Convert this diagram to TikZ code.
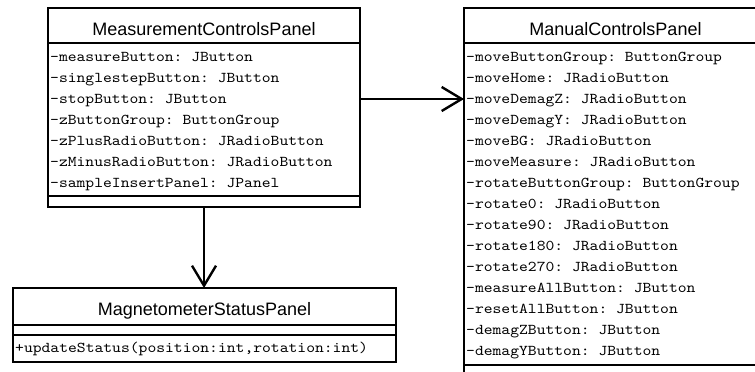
\documentclass[tikz,border=0pt]{standalone}
\usepackage{fontspec}
\setmainfont{Liberation Sans}
\setmonofont{lmmono10-regular.otf}[FakeStretch=1.12]
\usetikzlibrary{arrows.meta}
\begin{document}
\begin{tikzpicture}[x=1pt,y=-1pt,
  box/.style={draw, line width=2.4pt, anchor=north west, inner sep=0pt, outer sep=0pt, fill=white},
  title/.style={anchor=base, font=\fontsize{18}{20}\selectfont, inner sep=0pt},
  attr/.style={anchor=base west, font=\ttfamily\fontsize{15}{21}\selectfont, inner sep=0pt},
  sep/.style={line width=2.4pt},
  assoc/.style={line width=2.4pt, -{Straight Barb[length=20pt,width=24pt,line width=2.4pt]}}]
\useasboundingbox (0,0) rectangle (755,372);
\clip (0,0) rectangle (755,372);
\fill[white] (0,0) rectangle (755,372);

% MeasurementControlsPanel
\node[box, minimum width=312pt, minimum height=199pt] (mcp) at (48,8) {};
\draw[sep] (mcp.west |- 0,43) -- (mcp.east |- 0,43);
\draw[sep] (mcp.west |- 0,196) -- (mcp.east |- 0,196);
\node[title] (mcpt) at (204,35) {MeasurementControlsPanel};
\foreach \t [count=\i from 0] in {-measureButton: JButton,
  -singlestepButton: JButton,
  -stopButton: JButton,
  -zButtonGroup: ButtonGroup,
  -zPlusRadioButton: JRadioButton,
  -zMinusRadioButton: JRadioButton,
  -sampleInsertPanel: JPanel}
  \node[attr] (mcpa\i) at (50,61.5+21*\i) {\t};

% MagnetometerStatusPanel
\node[box, minimum width=383pt, minimum height=74pt] (msp) at (13,288) {};
\draw[sep] (msp.west |- 0,325) -- (msp.east |- 0,325);
\draw[sep] (msp.west |- 0,335) -- (msp.east |- 0,335);
\node[title] (mspt) at (204.5,315) {MagnetometerStatusPanel};
\node[attr] (mspm) at (15,352) {+updateStatus(position:int,rotation:int)};

% ManualControlsPanel
\node[box, minimum width=304pt, minimum height=420pt] (man) at (464,8) {};
\draw[sep] (man.west |- 0,43) -- (man.east |- 0,43);
\draw[sep] (man.west |- 0,365) -- (man.east |- 0,365);
\node[title] (mant) at (615.5,35) {ManualControlsPanel};
\foreach \t [count=\i from 0] in {-moveButtonGroup: ButtonGroup,
  -moveHome: JRadioButton,
  -moveDemagZ: JRadioButton,
  -moveDemagY: JRadioButton,
  -moveBG: JRadioButton,
  -moveMeasure: JRadioButton,
  -rotateButtonGroup: ButtonGroup,
  -rotate0: JRadioButton,
  -rotate90: JRadioButton,
  -rotate180: JRadioButton,
  -rotate270: JRadioButton,
  -measureAllButton: JButton,
  -resetAllButton: JButton,
  -demagZButton: JButton,
  -demagYButton: JButton}
  \node[attr] (mana\i) at (466,61.5+21*\i) {\t};

% connectors
\draw[assoc] (mcp.south) -- (mcp.south |- msp.north);
\draw[assoc] (mcp.east |- 0,99) -- (man.west |- 0,99);
\end{tikzpicture}
\end{document}
